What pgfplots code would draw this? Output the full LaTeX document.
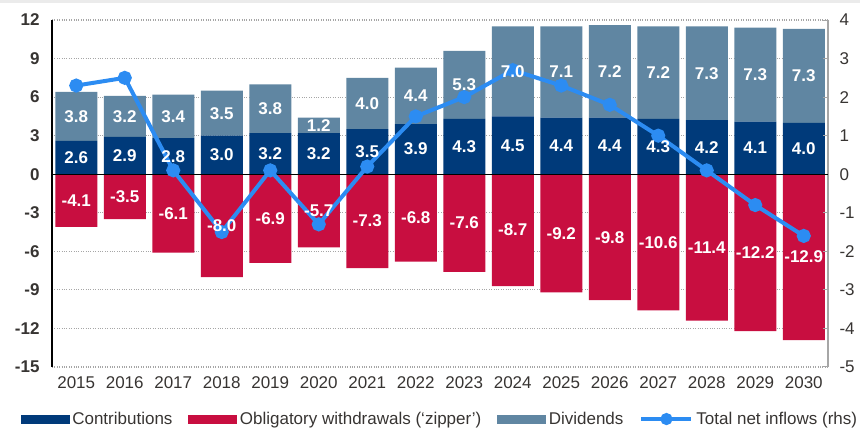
\documentclass[border=0pt]{standalone}
\usepackage{fontspec}
\setmainfont{Liberation Sans}
\usepackage{pgfplots}
\usepackage{pgfplotstable}
\pgfplotsset{compat=1.18}

\definecolor{contrib}{RGB}{0,58,122}
\definecolor{zipper}{RGB}{200,14,64}
\definecolor{divid}{RGB}{96,134,162}
\definecolor{netline}{RGB}{44,140,242}
\definecolor{ticktext}{RGB}{55,52,50}

\newcommand{\chartfont}{\fontsize{17}{20}\selectfont}

% x = year index (0 = 2015)
\pgfplotstableread{
x contrib zipper divid net
0  2.6  -4.1 3.8  2.3
1  2.9  -3.5 3.2  2.5
2  2.8  -6.1 3.4  0.1
3  3.0  -8.0 3.5 -1.5
4  3.2  -6.9 3.8  0.1
5  3.2  -5.7 1.2 -1.3
6  3.5  -7.3 4.0  0.2
7  3.9  -6.8 4.4  1.5
8  4.3  -7.6 5.3  2.0
9  4.5  -8.7 7.0  2.7
10 4.4  -9.2 7.1  2.3
11 4.4  -9.8 7.2  1.8
12 4.3 -10.6 7.2  1.0
13 4.2 -11.4 7.3  0.1
14 4.1 -12.2 7.3 -0.8
15 4.0 -12.9 7.3 -1.6
}\flows

\pgfplotsset{
  base/.style={
    at={(52pt,61pt)}, anchor=south west,
    scale only axis, width=776pt, height=347pt,
    xmin=-0.5, xmax=15.5,
    /pgf/number format/assume math mode=true,
    tick label style={font=\chartfont, text=ticktext},
  },
  lhs/.style={base, ymin=-15, ymax=12},
  label text/.style={
    fill=none, draw=none,
    nodes near coords={\pgfmathprintnumber[fixed,fixed zerofill,precision=1]{\rawy}},
    visualization depends on=rawy \as \rawy,
    every node near coord/.append style={anchor=center,
      font=\chartfont\bfseries, text=white},
  },
  centered labels/.style={label text,
    every node near coord/.append style={shift={(axis direction cs:0,-\rawy/2)}},
  },
}

\begin{document}
\begin{tikzpicture}
\useasboundingbox (0,0) rectangle (860pt,428pt);
\fill[black!8] (0,425pt) rectangle (860pt,428pt);

% withdrawals and left axis
\begin{axis}[lhs,
  ytick={-15,-12,...,12},
  xtick={0,...,15},
  xticklabels={2015,2016,2017,2018,2019,2020,2021,2022,2023,2024,2025,2026,2027,2028,2029,2030},
  yticklabel style={font=\chartfont\bfseries, xshift=-9pt},
  xticklabel style={yshift=-6pt},
  axis y line*=left, axis x line*=bottom,
  x axis line style={draw=none},
  y axis line style={black, line width=1.3pt, -},
  major tick length=0pt,
  ymajorgrids, major grid style={gray!70, dotted, line width=1.2pt},
  ybar, bar width=42pt,
]
\addplot[fill=zipper, draw=none] table[x=x, y=zipper] {\flows};
\end{axis}

% contributions and dividends
\begin{axis}[lhs, hide axis, ybar stacked, bar width=42pt]
\addplot[fill=contrib, draw=none] table[x=x, y=contrib] {\flows};
\addplot[fill=divid, draw=none] table[x=x, y=divid] {\flows};
\end{axis}

% net inflows, right axis and legend
\begin{axis}[base,
  ymin=-5, ymax=4, ytick={-5,...,4},
  axis y line*=right, axis x line=none,
  y axis line style={black!35, line width=1.5pt, -},
  ytick style={black!35, line width=1pt},
  major tick length=5pt,
  yticklabel style={xshift=8pt},
  legend style={at={(axis description cs:0.5,-0.15)}, anchor=center,
    draw=none, fill=none, legend columns=-1,
    font=\chartfont, text=ticktext,
    /tikz/every even column/.append style={column sep=14pt},
    /tikz/every odd column/.append style={column sep=1pt}},
]
\draw[black, line width=1.3pt] (axis cs:-0.5,0) -- (axis cs:15.5,0);
\addlegendimage{legend image code/.code={\fill[contrib] (0pt,-4pt) rectangle (48pt,4pt);}}
\addlegendimage{legend image code/.code={\fill[zipper] (0pt,-4pt) rectangle (48pt,4pt);}}
\addlegendimage{legend image code/.code={\fill[divid] (0pt,-4pt) rectangle (48pt,4pt);}}
\addplot[netline, line width=4pt, mark=*, mark size=5pt,
  legend image code/.code={\draw[netline, line width=4pt, mark=*, mark size=4pt, mark repeat=2, mark phase=2] plot coordinates {(0pt,0pt) (25pt,0pt) (50pt,0pt)};}]
  table[x=x, y=net] {\flows};
\legend{Contributions, Obligatory withdrawals (`zipper'), Dividends, Total net inflows (rhs)}
\end{axis}

% value labels on top of the line
\begin{axis}[lhs, hide axis, ybar, bar width=42pt]
\addplot[centered labels] table[x=x, y=zipper] {\flows};
\end{axis}
\begin{axis}[lhs, hide axis, ybar stacked, bar width=42pt]
\addplot[label text] table[x=x, y=contrib] {\flows};
\addplot[label text] table[x=x, y=divid] {\flows};
\end{axis}
\end{tikzpicture}
\end{document}
